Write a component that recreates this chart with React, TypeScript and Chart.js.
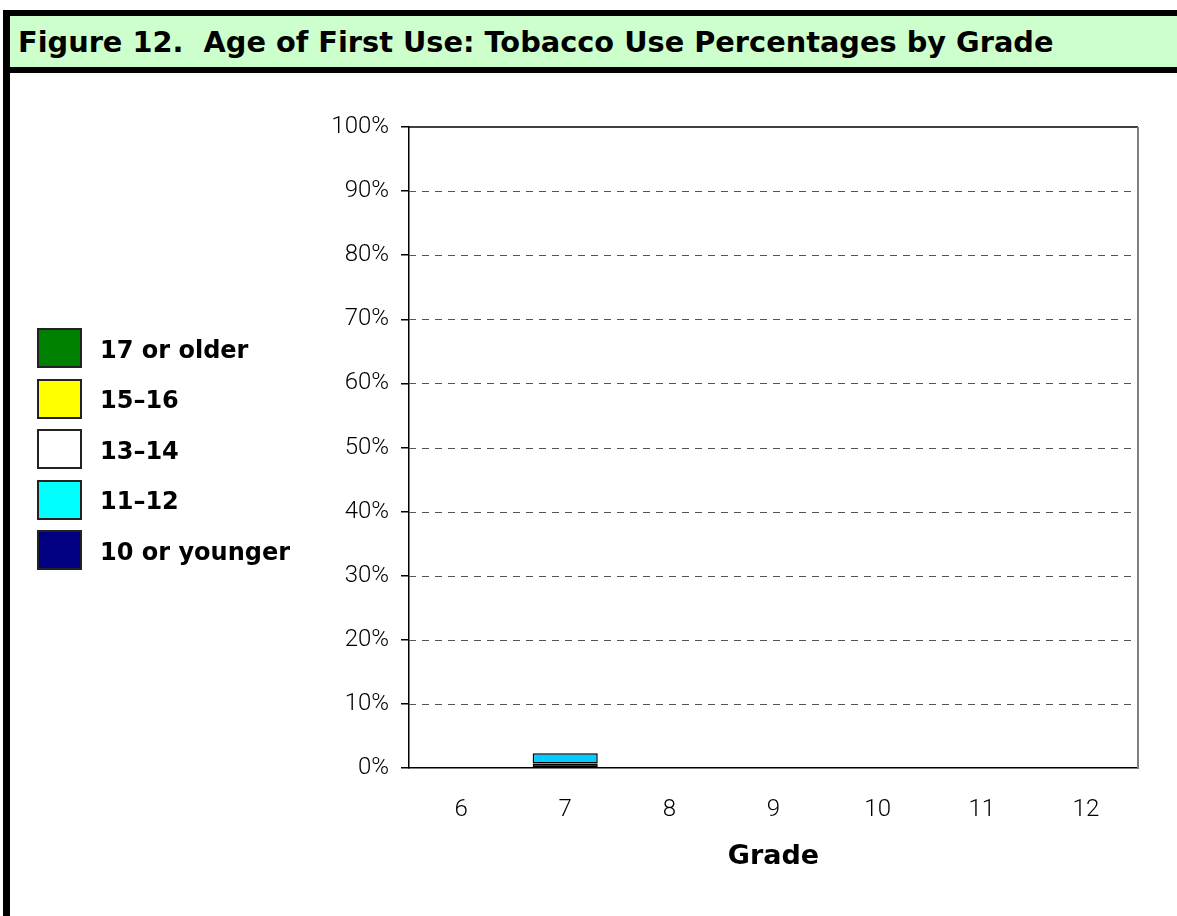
import React, { useEffect, useRef } from "react";
import { Chart, registerables } from "chart.js";

Chart.register(...registerables);

const titleText = "Figure 12.  Age of First Use: Tobacco Use Percentages by Grade";
const grades = ["6", "7", "8", "9", "10", "11", "12"];
const seriesNames = ["10 or younger", "11\u201312", "13\u201314", "15\u201316", "17 or older"];
const ageTenOrYounger = [0, 0.7, 0, 0, 0, 0, 0];
const ageElevenToTwelve = [0, 1.6, 0, 0, 0, 0, 0];
const ageThirteenToFourteen = [0, 0, 0, 0, 0, 0, 0];
const ageFifteenToSixteen = [0, 0, 0, 0, 0, 0, 0];
const ageSeventeenOrOlder = [0, 0, 0, 0, 0, 0, 0];
const barColors = ["#000080", "#00CCFF", "#FFFFFF", "#FFFF00", "#008000"];
const legendColors = ["#000080", "#00FFFF", "#FFFFFF", "#FFFF00", "#008000"];
const yTickValues = [0, 10, 20, 30, 40, 50, 60, 70, 80, 90, 100];
const xTitle = "Grade";

const W = 1177;
const H = 916;

const framePlugin = {
  id: "plotFrame",
  beforeDatasetsDraw(chart: any) {
    const { ctx, chartArea, scales } = chart;
    const { left, right, bottom } = chartArea;
    const y = scales.y;
    ctx.save();
    ctx.lineWidth = 1;
    ctx.strokeStyle = "#555555";
    ctx.setLineDash([7, 6]);
    yTickValues.forEach((v) => {
      if (v <= 0 || v >= 100) return;
      const py = Math.round(y.getPixelForValue(v)) + 0.5;
      ctx.beginPath();
      ctx.moveTo(left, py);
      ctx.lineTo(right, py);
      ctx.stroke();
    });
    ctx.setLineDash([]);
    ctx.strokeStyle = "#000000";
    ctx.lineWidth = 1.5;
    const pt = Math.round(y.getPixelForValue(100));
    ctx.beginPath();
    ctx.moveTo(left, pt);
    ctx.lineTo(right, pt);
    ctx.stroke();
    ctx.strokeStyle = "#808080";
    ctx.lineWidth = 2;
    ctx.beginPath();
    ctx.moveTo(right, pt);
    ctx.lineTo(right, bottom);
    ctx.stroke();
    ctx.restore();
  },
};

export default function App() {
  const canvasRef = useRef<HTMLCanvasElement | null>(null);

  useEffect(() => {
    const canvas = canvasRef.current;
    if (!canvas) return;
    const seriesData = [
      ageTenOrYounger,
      ageElevenToTwelve,
      ageThirteenToFourteen,
      ageFifteenToSixteen,
      ageSeventeenOrOlder,
    ];
    const tickFont = { family: "Roboto", size: 24, weight: "300" as any };
    const chart = new Chart(canvas, {
      type: "bar",
      data: {
        labels: grades,
        datasets: seriesNames.map((name, i) => ({
          label: name,
          data: seriesData[i],
          backgroundColor: barColors[i],
          borderColor: "#000000",
          borderWidth: 1.5,
          borderSkipped: false,
          barPercentage: 0.625,
          categoryPercentage: 1,
        })),
      },
      options: {
        responsive: false,
        animation: false,
        devicePixelRatio: 1,
        layout: { padding: { left: 289, top: 127, right: 39, bottom: 38 } },
        plugins: {
          legend: { display: false },
          tooltip: { enabled: false },
        },
        scales: {
          x: {
            stacked: true,
            grid: { display: false },
            border: { display: true, color: "#000000", width: 1.5 },
            ticks: { font: tickFont, color: "#000000", padding: 20 },
            title: {
              display: true,
              text: xTitle,
              color: "#000000",
              font: { family: "DejaVu Sans", size: 27, weight: "bold" },
              padding: { top: 0, bottom: 5 },
            },
            afterFit: (s: any) => {
              s.height = 110;
            },
          },
          y: {
            stacked: true,
            min: 0,
            max: 100,
            afterBuildTicks: (s: any) => {
              s.ticks = yTickValues.map((v) => ({ value: v }));
            },
            ticks: {
              font: tickFont,
              color: "#000000",
              padding: 12,
              callback: (v: any) => `${v}%`,
            },
            grid: {
              drawOnChartArea: false,
              drawTicks: true,
              tickLength: 8,
              color: "#000000",
              lineWidth: 1.5,
            },
            border: { display: true, color: "#000000", width: 1.5 },
            afterFit: (s: any) => {
              s.width = 120;
            },
          },
        },
      },
      plugins: [framePlugin],
    });
    return () => chart.destroy();
  }, []);

  const legendOrder = [4, 3, 2, 1, 0];

  return (
    <div
      style={{
        position: "fixed",
        left: 0,
        top: 0,
        width: W,
        height: H,
        background: "#ffffff",
        overflow: "hidden",
      }}
    >
      <canvas
        ref={canvasRef}
        width={W}
        height={H}
        style={{ position: "absolute", left: 0, top: 0, width: W, height: H, display: "block" }}
      />
      <div style={{ position: "absolute", left: 3, top: 10, width: W - 3, height: 6, background: "#000" }} />
      <div
        style={{
          position: "absolute",
          left: 3,
          top: 16,
          width: W - 3,
          height: 51,
          background: "#CCFFCC",
        }}
      />
      <div
        style={{
          position: "absolute",
          left: 18,
          top: 16,
          height: 51,
          lineHeight: "53px",
          fontFamily: "'DejaVu Sans', sans-serif",
          fontWeight: "bold",
          fontSize: 28.8,
          whiteSpace: "pre",
          color: "#000",
        }}
      >
        {titleText}
      </div>
      <div style={{ position: "absolute", left: 3, top: 67, width: W - 3, height: 6, background: "#000" }} />
      <div style={{ position: "absolute", left: 3, top: 10, width: 7, height: H - 10, background: "#000" }} />
      {legendOrder.map((idx, row) => (
        <div
          key={idx}
          style={{
            position: "absolute",
            left: 37,
            top: 328 + row * 50.5,
            height: 40,
            display: "flex",
            alignItems: "center",
          }}
        >
          <div
            style={{
              width: 41,
              height: 36,
              background: legendColors[idx],
              border: "2px solid #222",
            }}
          />
          <div
            style={{
              marginLeft: 18,
              marginTop: 3,
              fontFamily: "'DejaVu Sans', sans-serif",
              fontWeight: "bold",
              fontSize: 24,
              whiteSpace: "pre",
              color: "#000",
            }}
          >
            {seriesNames[idx]}
          </div>
        </div>
      ))}
    </div>
  );
}
